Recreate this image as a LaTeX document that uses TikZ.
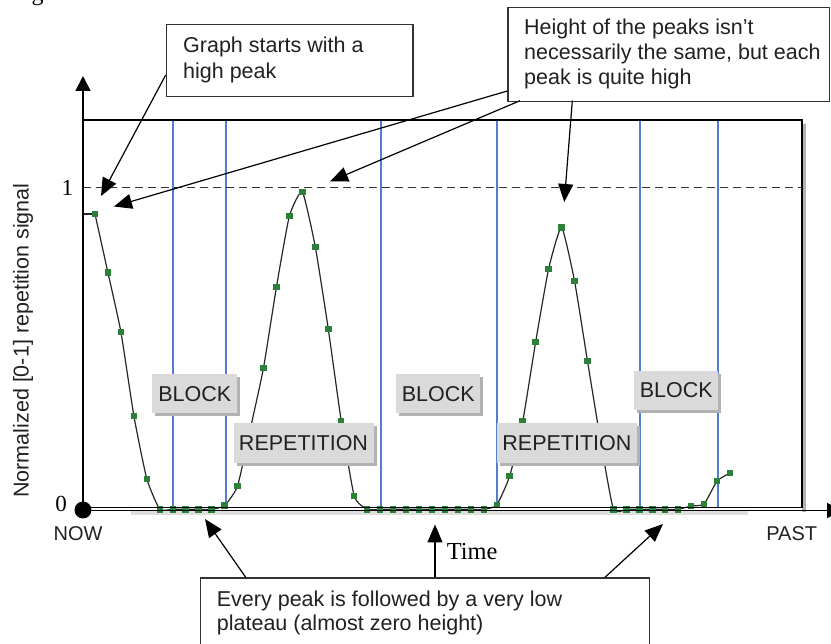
\documentclass[tikz,border=0pt]{standalone}
\usepackage{fontspec}
\setmainfont{Liberation Serif}
\newfontfamily\sansf{Liberation Sans}
\usetikzlibrary{arrows.meta,shadows}
\definecolor{ptgreen}{RGB}{44,128,58}
\definecolor{blueln}{RGB}{84,124,210}
\definecolor{tagfill}{RGB}{218,218,218}
\definecolor{tagshade}{RGB}{178,178,178}
\begin{document}
\begin{tikzpicture}[x=1pt,y=-1pt,
  sanslbl/.style={font=\sansf\fontsize{21.5}{25}\selectfont, text=black!87, inner sep=0pt},
  serifnum/.style={font=\fontsize{23}{26}\selectfont, inner sep=0pt},
  callout/.style={draw=black!80, line width=1.2pt, fill=white, rectangle, inner sep=0pt, anchor=north west},
  tagbox/.style={fill=tagfill, rectangle, inner sep=0pt, anchor=north west,
     font=\sansf\fontsize{21.5}{25}\selectfont, text=black!87,
     general shadow={fill=tagshade, shadow xshift=3pt, shadow yshift=-3pt}},
  blueline/.style={draw=blueln, line width=1.9pt},
  ptsq/.style={fill=ptgreen, rectangle, minimum size=6.5pt, inner sep=0pt},
  callarrow/.style={draw=black, line width=1.2pt, -{Triangle[length=18pt,width=15pt]}},
  axisarrow/.style={draw=black, line width=1.8pt, -{Triangle[length=15pt,width=15pt]}},
]
\useasboundingbox (0,0) rectangle (831,644);

% fragment of caption text above, cut off by the page edge
\begin{scope}
\clip (0,0) rectangle (831,644);
\node[anchor=base, font=\fontsize{24}{24}\selectfont, inner sep=0pt] (gfrag) at (37.5,0.5) {g};
\end{scope}

% frame shadow
\fill[black!13] (131,511) rectangle (748,515.5);
\fill[black!30] (802,124) rectangle (805.5,512);

% blue vertical lines
\foreach \xx [count=\i] in {173.3,225.7,380.7,497.3,640,717.7}
  \draw[blueline] (\xx,120) -- (\xx,507.7);

% dashed level 1
\draw[black!80, line width=1.3pt, dash pattern=on 8pt off 5pt] (83,187.7) -- (802,187.7);

% data line
\draw[black!85, line width=1.2pt] (83,214) -- (95,214);
\draw[black!85, line width=1.2pt] plot[smooth, tension=0.3] coordinates {
(95,214) (107.96,272.7) (120.92,332) (133.88,416) (146.84,479) (159.8,509.3)
(172.76,509.3) (185.72,509.3) (198.68,509.3) (211.64,509.3) (224.6,505.5)
(237.56,486) (250.52,428) (263.48,368) (276.44,287) (289.4,216) (302.36,192)
(315.32,247) (328.28,329) (341.24,421) (354.2,496) (367.16,509.3)
(380.12,509.3) (393.08,509.3) (406.04,509.3) (419,509.3) (431.96,509.3)
(444.92,509.3) (457.88,509.3) (470.84,509.3) (483.8,509.3) (496.76,505)
(509.72,476) (522.68,421.7) (535.64,342) (548.6,269) (561.56,227.5)
(574.52,281) (587.48,361) (600.44,440) (613.4,509.3) (626.36,509.3)
(639.32,509.3) (652.28,509.3) (665.24,509.3) (678.2,509.3) (691.16,506)
(704.12,504) (717.08,481) (730.04,473)};

% data points
\foreach \p [count=\i] in {
(95,214), (107.96,272.7), (120.92,332), (133.88,416), (146.84,479), (159.8,509.3),
(172.76,509.3), (185.72,509.3), (198.68,509.3), (211.64,509.3), (224.6,505.5),
(237.56,486), (250.52,428), (263.48,368), (276.44,287), (289.4,216), (302.36,192),
(315.32,247), (328.28,329), (341.24,421), (354.2,496), (367.16,509.3),
(380.12,509.3), (393.08,509.3), (406.04,509.3), (419,509.3), (431.96,509.3),
(444.92,509.3), (457.88,509.3), (470.84,509.3), (483.8,509.3), (496.76,505),
(509.72,476), (522.68,421.7), (535.64,342), (548.6,269), (561.56,227.5),
(574.52,281), (587.48,361), (600.44,440), (613.4,509.3), (626.36,509.3),
(639.32,509.3), (652.28,509.3), (665.24,509.3), (678.2,509.3), (691.16,506),
(704.12,504), (717.08,481), (730.04,473)}
  \node[ptsq] (pt\i) at \p {};

% BLOCK / REPETITION tags
\node[tagbox, minimum width=85pt, minimum height=39pt] (block1) at (152,374) {BLOCK};
\node[tagbox, minimum width=140pt, minimum height=40pt] (rep1) at (233.3,423.3) {REPETITION};
\node[tagbox, minimum width=84pt, minimum height=39pt] (block2) at (396,374) {BLOCK};
\node[tagbox, minimum width=140pt, minimum height=40pt] (rep2) at (496.7,423.3) {REPETITION};
\node[tagbox, minimum width=84pt, minimum height=39pt] (block3) at (634,370.7) {BLOCK};

% frame
\draw[black, line width=1.6pt] (83,120) rectangle (802,507.7);

% axes
\coordinate (origin) at (83,510.5);
\coordinate (ytip) at (83,76);
\coordinate (xtip) at (842,510.5);
\draw[axisarrow] (origin) -- (ytip);
\draw[axisarrow] (origin) -- (xtip);
\fill[black] (83,510) circle (8.5pt);

% axis labels
\node[serifnum] (one) at (67.3,187.7) {1};
\node[serifnum] (zero) at (61,504) {0};
\node[sanslbl, anchor=base, rotate=90] (ylabel) at (28.5,340.5) {Normalized [0-1] repetition signal};
\node[sanslbl, font=\sansf\fontsize{20}{22}\selectfont, anchor=center] (now) at (78,534) {NOW};
\node[sanslbl, font=\sansf\fontsize{20}{22}\selectfont, anchor=center] (past) at (791.7,534) {PAST};
\node[anchor=base west, font=\fontsize{24.4}{26}\selectfont, inner sep=0pt] (time) at (446.7,559) {Time};

% callout A
\node[callout, minimum width=246.6pt, minimum height=72pt] (boxA) at (165.7,24) {};
\node[sanslbl, anchor=base west] (boxAl1) at (183,53) {Graph starts with a};
\node[sanslbl, anchor=base west] (boxAl2) at (183,78.3) {high peak};

% callout B
\node[callout, minimum width=321.7pt, minimum height=94pt] (boxB) at (507.3,6.7) {};
\node[sanslbl, anchor=base west] (boxBl1) at (524,35) {Height of the peaks isn’t};
\node[sanslbl, anchor=base west] (boxBl2) at (524,60) {necessarily the same, but each};
\node[sanslbl, anchor=base west] (boxBl3) at (524,85) {peak is quite high};

% callout C
\node[callout, minimum width=449pt, minimum height=80pt] (boxC) at (200,577.3) {};
\node[sanslbl, anchor=base west] (boxCl1) at (216.7,606) {Every peak is followed by a very low};
\node[sanslbl, anchor=base west] (boxCl2) at (216.7,630.7) {plateau (almost zero height)};

% arrows
\coordinate (a1s) at (165.7,75);   \coordinate (a1t) at (101,196);
\coordinate (a2s) at (507.3,91);   \coordinate (a2t) at (114,206.5);
\coordinate (a3s) at (520,100.7);  \coordinate (a3t) at (330,181.5);
\coordinate (a4s) at (572.3,100.7);\coordinate (a4t) at (564.3,202);
\coordinate (a5s) at (245.7,577.3);\coordinate (a5t) at (205,519);
\coordinate (a6s) at (435,577.3);  \coordinate (a6t) at (435,524.5);
\coordinate (a7s) at (605,577.3);  \coordinate (a7t) at (663,524);
\draw[callarrow] (a1s) -- (a1t);
\draw[callarrow] (a2s) -- (a2t);
\draw[callarrow] (a3s) -- (a3t);
\draw[callarrow] (a4s) -- (a4t);
\draw[callarrow] (a5s) -- (a5t);
\draw[callarrow] (a6s) -- (a6t);
\draw[callarrow] (a7s) -- (a7t);
\end{tikzpicture}
\end{document}
